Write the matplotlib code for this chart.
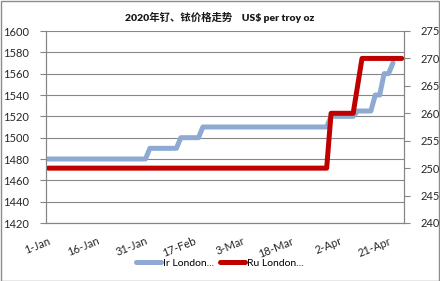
import matplotlib
matplotlib.use("Agg")
import matplotlib.pyplot as plt
from matplotlib.patches import Rectangle

plt.rcParams['font.family'] = ['Lato', 'Noto Sans CJK SC', 'DejaVu Sans']

dates = (["%d-Jan" % d for d in [1, 2, 3, 6, 7, 8, 9, 10, 13, 14, 15, 16, 17, 20, 21, 22, 23, 24, 27, 28, 29, 30, 31]]
         + ["%d-Feb" % d for d in [3, 4, 5, 6, 7, 10, 11, 12, 13, 14, 17, 18, 19, 20, 21, 24, 25, 26, 27, 28]]
         + ["%d-Mar" % d for d in [2, 3, 4, 5, 6, 9, 10, 11, 12, 13, 16, 17, 18, 19, 20, 23, 24, 25, 26, 27, 30, 31]]
         + ["%d-Apr" % d for d in [1, 2, 3, 6, 7, 8, 9, 14, 15, 16, 17, 20, 21, 22, 23, 24]])

ir_london = [1480, 1480, 1480, 1480, 1480, 1480, 1480, 1480, 1480, 1480,
             1480, 1480, 1480, 1480, 1480, 1480, 1480, 1480, 1480, 1480,
             1480, 1480, 1480, 1490, 1490, 1490, 1490, 1490, 1490, 1490,
             1500, 1500, 1500, 1500, 1500, 1510, 1510, 1510, 1510, 1510,
             1510, 1510, 1510, 1510, 1510, 1510, 1510, 1510, 1510, 1510,
             1510, 1510, 1510, 1510, 1510, 1510, 1510, 1510, 1510, 1510,
             1510, 1510, 1510, 1510, 1520, 1520, 1520, 1520, 1520, 1520,
             1525, 1525, 1525, 1525, 1540, 1540, 1560, 1560, 1570, None,
             None]
ru_london = [250, 250, 250, 250, 250, 250, 250, 250, 250, 250,
             250, 250, 250, 250, 250, 250, 250, 250, 250, 250,
             250, 250, 250, 250, 250, 250, 250, 250, 250, 250,
             250, 250, 250, 250, 250, 250, 250, 250, 250, 250,
             250, 250, 250, 250, 250, 250, 250, 250, 250, 250,
             250, 250, 250, 250, 250, 250, 250, 250, 250, 250,
             250, 250, 250, 250, 260, 260, 260, 260, 260, 260,
             265, 270, 270, 270, 270, 270, 270, 270, 270, 270,
             270]
series_names = ["Ir London...", "Ru London..."]
title = "2020年钌、铱价格走势    US$ per troy oz"

ir = [float('nan') if v is None else v for v in ir_london]
x = list(range(len(dates)))

W, H = 440, 281
fig = plt.figure(figsize=(W / 100, H / 100), dpi=100)
fig.patches.append(Rectangle((0.5 / W, 0.5 / H), 1 - 1.5 / W, 1 - 1.5 / H, transform=fig.transFigure,
                             fill=False, edgecolor='#8c8c8c', linewidth=1.0))

ax = fig.add_axes([46 / W, 1 - 223 / H, (404 - 46) / W, (223 - 31) / H])
ax2 = ax.twinx()

grid_c = '#868686'
l1, = ax.plot(x, ir, color='#8eaad3', linewidth=3.6, solid_capstyle='round', solid_joinstyle='round')
l2, = ax2.plot(x, ru_london, color='#c00000', linewidth=3.6, solid_capstyle='round', solid_joinstyle='round')

ax.set_xlim(-0.5, len(dates) - 0.5)
ax.set_ylim(1420, 1600)
ax.set_yticks(range(1420, 1601, 20))
ax2.set_ylim(240, 275)
ax2.set_yticks(range(240, 276, 5))

ax.grid(axis='y', color=grid_c, linewidth=0.8)
ax.set_axisbelow(True)
for a in (ax, ax2):
    for s in a.spines.values():
        s.set_color(grid_c)
        s.set_linewidth(0.8)
    a.spines['top'].set_visible(False)

tick_idx = list(range(0, len(dates), 11))
ax.set_xticks(tick_idx)
ax.set_xticklabels([dates[i] for i in tick_idx], rotation=22, ha='right', va='top',
                   rotation_mode='anchor', fontsize=8, color='#262626')
ax.tick_params(axis='x', length=0, pad=9)
ax.tick_params(axis='y', length=4, color=grid_c, labelsize=8, labelcolor='#262626', pad=8)
ax2.tick_params(axis='y', length=4, color=grid_c, labelsize=8, labelcolor='#262626', pad=8)

fig.text(0.5, 1 - 17 / H, title, ha='center', va='center', fontsize=7.5, fontweight='heavy', color='#1a1a1a')

fig.legend([l1, l2], series_names, loc='center', bbox_to_anchor=(0.5, 1 - 263 / H), ncol=2,
           frameon=False, fontsize=7.5, handlelength=2.4, columnspacing=0.6, handletextpad=0.2)

fig.savefig('out.png', dpi=100)
